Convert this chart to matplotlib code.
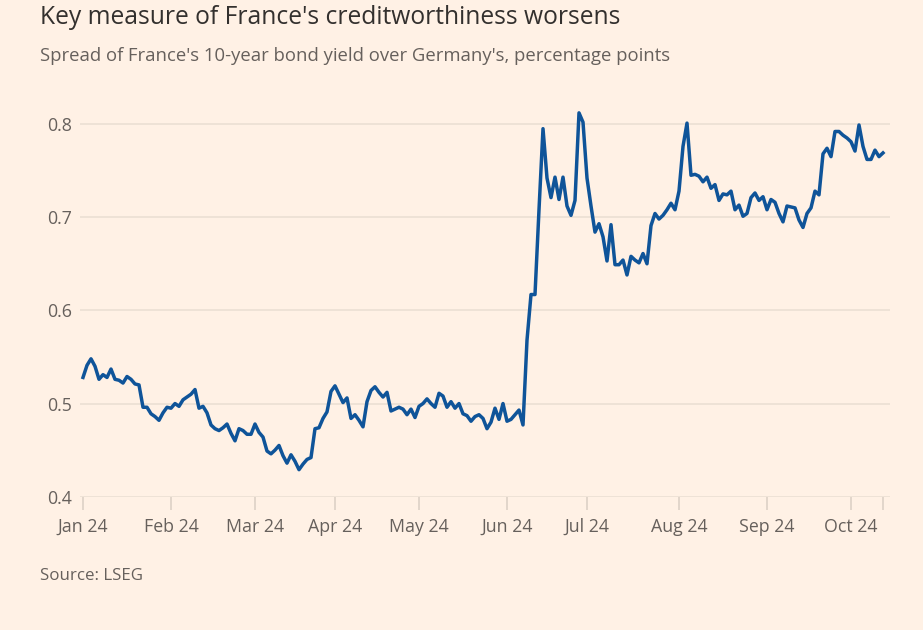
import pandas as pd
import matplotlib.pyplot as plt

# Spread of France's 10-year yield over Germany's, one value per trading day
jan = [0.528, 0.541, 0.548, 0.540, 0.526, 0.531, 0.528, 0.537, 0.526, 0.525, 0.522,
       0.529, 0.526, 0.521, 0.520, 0.496, 0.496, 0.489, 0.486, 0.482, 0.490, 0.496]
feb = [0.495, 0.500, 0.497, 0.504, 0.507, 0.510, 0.515, 0.495, 0.497, 0.490, 0.477,
       0.473, 0.471, 0.474, 0.478, 0.468, 0.460, 0.473, 0.471, 0.467, 0.467]
mar = [0.478, 0.469, 0.464, 0.449, 0.446, 0.450, 0.455, 0.444, 0.436, 0.445,
       0.438, 0.429, 0.435, 0.440, 0.442, 0.473, 0.474, 0.484, 0.491, 0.513]
apr = [0.519, 0.510, 0.501, 0.506, 0.484, 0.488, 0.482, 0.475, 0.502, 0.514, 0.518,
       0.512, 0.507, 0.512, 0.492, 0.494, 0.496, 0.494, 0.488, 0.494, 0.485]
may = [0.497, 0.500, 0.505, 0.500, 0.496, 0.511, 0.508, 0.496, 0.502, 0.495, 0.500,
       0.489, 0.487, 0.481, 0.486, 0.488, 0.484, 0.473, 0.480, 0.495, 0.483, 0.500]
jun = [0.481, 0.483, 0.488, 0.493, 0.477, 0.568, 0.617, 0.617, 0.708, 0.795,
       0.742, 0.721, 0.743, 0.719, 0.743, 0.712, 0.702, 0.718, 0.812, 0.802]
jul = [0.742, 0.712, 0.684, 0.693, 0.679, 0.653, 0.692, 0.649, 0.649, 0.654, 0.638, 0.658,
       0.654, 0.651, 0.661, 0.650, 0.691, 0.704, 0.698, 0.702, 0.708, 0.715, 0.708]
aug = [0.728, 0.776, 0.801, 0.745, 0.746, 0.744, 0.738, 0.743, 0.731, 0.735, 0.718,
       0.725, 0.724, 0.728, 0.708, 0.713, 0.701, 0.704, 0.721, 0.726, 0.718, 0.722]
sep = [0.708, 0.719, 0.716, 0.704, 0.695, 0.712, 0.711, 0.710, 0.697, 0.689, 0.704,
       0.710, 0.728, 0.724, 0.768, 0.774, 0.765, 0.792, 0.792, 0.788, 0.785]
oct_ = [0.781, 0.771, 0.799, 0.776, 0.762, 0.762, 0.772, 0.765, 0.769]

spread = jan + feb + mar + apr + may + jun + jul + aug + sep + oct_
y_ticks = [0.4, 0.5, 0.6, 0.7, 0.8]

# Trading calendar (market holidays skipped), the chart spaces days evenly
holidays = ['2024-01-01', '2024-03-29', '2024-04-01', '2024-05-01']
days = pd.bdate_range('2024-01-02', periods=len(spread), freq='C', holidays=holidays)
df = pd.DataFrame({'date': days, 'spread': spread})
df['pos'] = range(len(df))

# first trading day of each month gets a labelled tick
month_start = df.groupby(df['date'].dt.to_period('M'))['pos'].min()
tick_pos = list(month_start.values)
tick_lab = [p.strftime('%b %y') for p in month_start.index]

bg = '#FFF1E5'
grey = '#66605C'
grid_col = '#EBDFD4'
font = 'Open Sans'

fig = plt.figure(figsize=(9.23, 6.3), dpi=100, facecolor=bg)
ax = fig.add_axes([80 / 923, (630 - 496.7) / 630, 810 / 923, 391.3 / 630])
ax.set_facecolor(bg)

ax.plot(df['pos'], df['spread'], color='#0F5499', lw=2.5, solid_joinstyle='round')

ax.set_xlim(-0.75, 201.75)
ax.set_ylim(0.4, 0.82)
ax.set_yticks(y_ticks)
ax.set_yticklabels([f'{v:.1f}' for v in y_ticks])
ax.grid(axis='y', color=grid_col, lw=1.2)
ax.set_axisbelow(True)

# month ticks plus an unlabelled one at the last data point
ax.set_xticks(tick_pos + [df['pos'].iloc[-1]])
ax.set_xticklabels(tick_lab + [''])

for s in ax.spines.values():
    s.set_visible(False)
ax.tick_params(axis='y', length=0, pad=6, labelsize=12.8, labelcolor=grey)
ax.tick_params(axis='x', length=9, width=1.2, color='#DDD1C6', pad=6,
               labelsize=12.8, labelcolor=grey)
for lab in ax.get_xticklabels() + ax.get_yticklabels():
    lab.set_fontfamily(font)

fig.text(40 / 923, 1 - 18 / 630, "Key measure of France's creditworthiness worsens",
         fontsize=17.7, color='#33302E', family=font, va='center')
fig.text(40 / 923, 1 - 56 / 630,
         "Spread of France's 10-year bond yield over Germany's, percentage points",
         fontsize=13.35, color=grey, family=font, va='center')
fig.text(40 / 923, 1 - 576 / 630, 'Source: LSEG', fontsize=12.2, color=grey,
         family=font, va='center')

fig.savefig('out.png', dpi=100, facecolor=bg)
